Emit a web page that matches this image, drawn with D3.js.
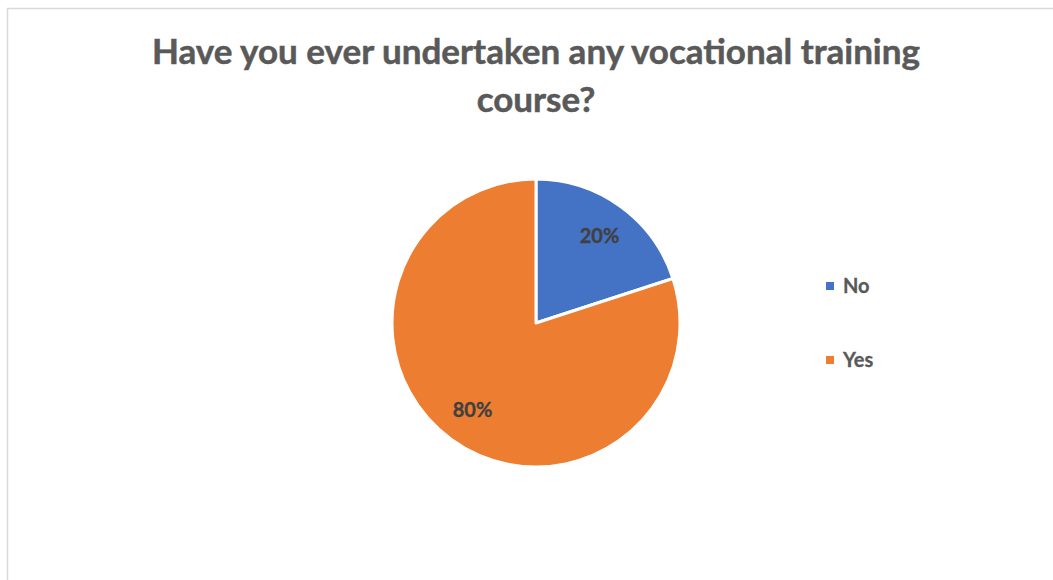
<!DOCTYPE html>
<html>
<head>
<meta charset="utf-8">
<script src="https://cdn.jsdelivr.net/npm/d3@7"></script>
<style>
  body { margin: 0; background: #fff; }
  svg { display: block; font-family: Lato, "Open Sans", sans-serif; }
</style>
</head>
<body>
<svg id="chart" width="1053" height="580"></svg>
<script>
// data
var categories = ["No", "Yes"];
var values = [20, 80];
var colors = ["#4472C4", "#ED7D31"];
var titleLines = ["Have you ever undertaken any vocational training", "course?"];

var svg = d3.select("#chart");

// chart border (only left/top visible in the shot)
svg.append("rect")
  .attr("x", 7.5).attr("y", 8.5)
  .attr("width", 1100).attr("height", 600)
  .attr("fill", "none")
  .attr("stroke", "#d9d9d9")
  .attr("stroke-width", 1.5);

// title
var title = svg.append("text")
  .attr("text-anchor", "middle")
  .attr("fill", "#595959")
  .attr("stroke", "#595959")
  .attr("stroke-width", 0.5)
  .attr("font-weight", "bold")
  .attr("font-size", 35);
title.selectAll("tspan")
  .data(titleLines)
  .enter()
  .append("tspan")
  .attr("x", 536)
  .attr("y", function (d, i) { return 64 + i * 48; })
  .text(function (d) { return d; });

// pie
var cx = 536, cy = 323, R = 144;
var g = svg.append("g").attr("transform", "translate(" + cx + "," + cy + ")");

var pie = d3.pie().sort(null).value(function (d) { return d; });
var arcs = pie(values);
var arc = d3.arc().innerRadius(0).outerRadius(R);
var labelArc = d3.arc().innerRadius(108).outerRadius(108);

g.selectAll("path")
  .data(arcs)
  .enter()
  .append("path")
  .attr("d", arc)
  .attr("fill", function (d, i) { return colors[i]; })
  .attr("stroke", "#fff")
  .attr("stroke-width", 3)
  .attr("stroke-linejoin", "round");

g.selectAll("text.lbl")
  .data(arcs)
  .enter()
  .append("text")
  .attr("class", "lbl")
  .attr("transform", function (d) {
    var c = labelArc.centroid(d);
    return "translate(" + c[0] + "," + c[1] + ")";
  })
  .attr("text-anchor", "middle")
  .attr("dy", "0.35em")
  .attr("fill", "#404040")
  .attr("stroke", "#404040")
  .attr("stroke-width", 0.3)
  .attr("font-weight", "bold")
  .attr("font-size", 20)
  .text(function (d) {
    var total = d3.sum(values);
    return Math.round(d.value / total * 100) + "%";
  });

// legend
var legend = svg.append("g").attr("transform", "translate(826,0)");
var ly = d3.scalePoint().domain(categories).range([286, 360]);

legend.selectAll("rect")
  .data(categories)
  .enter()
  .append("rect")
  .attr("x", 0)
  .attr("y", function (d) { return ly(d) - 4; })
  .attr("width", 8)
  .attr("height", 8)
  .attr("fill", function (d, i) { return colors[i]; });

legend.selectAll("text")
  .data(categories)
  .enter()
  .append("text")
  .attr("x", 17)
  .attr("y", function (d) { return ly(d); })
  .attr("dy", "0.35em")
  .attr("fill", "#595959")
  .attr("stroke", "#595959")
  .attr("stroke-width", 0.3)
  .attr("font-weight", "bold")
  .attr("font-size", 20)
  .text(function (d) { return d; });
</script>
</body>
</html>
